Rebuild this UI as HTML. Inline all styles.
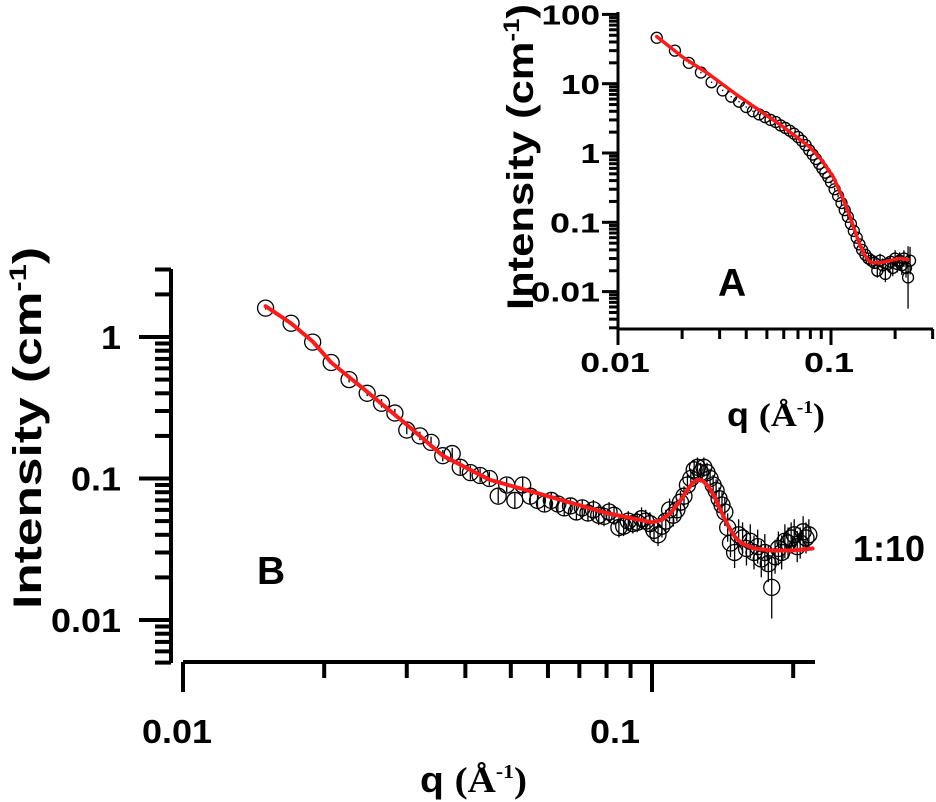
<!DOCTYPE html>
<html><head><meta charset="utf-8"><style>
html,body{margin:0;padding:0;background:#fff;}
svg{display:block;font-family:"Liberation Sans",Arial,sans-serif;font-weight:bold;}
</style></head><body>
<svg id="chart" width="936" height="802" viewBox="0 0 936 802" xmlns="http://www.w3.org/2000/svg">
<g id="main"></g>
<g id="inset"></g>
<text transform="translate(41,609) rotate(-90)" font-size="40" textLength="362" lengthAdjust="spacingAndGlyphs">Intensity (cm<tspan font-size="24" dy="-15">-1</tspan><tspan dy="15">)</tspan></text>
<text x="420" y="792" font-size="36" textLength="107" lengthAdjust="spacingAndGlyphs">q <tspan font-family="'Liberation Serif',serif">(Å</tspan><tspan font-family="'Liberation Serif',serif" font-size="20" dy="-14">-1</tspan><tspan font-family="'Liberation Serif',serif" dy="14">)</tspan></text>
<text transform="translate(533,310) rotate(-90)" font-size="37" textLength="306" lengthAdjust="spacingAndGlyphs">Intensity (cm<tspan font-size="22" dy="-14">-1</tspan><tspan dy="14">)</tspan></text>
<text x="727" y="426" font-size="33" textLength="98" lengthAdjust="spacingAndGlyphs">q <tspan font-family="'Liberation Serif',serif">(Å</tspan><tspan font-family="'Liberation Serif',serif" font-size="18" dy="-13">-1</tspan><tspan font-family="'Liberation Serif',serif" dy="13">)</tspan></text>
<text x="718" y="296" font-size="39">A</text>
<text x="257" y="584" font-size="39">B</text>
<text x="853" y="561" font-size="36">1:10</text>
</svg>
<script>
// ---- Panel B data ----
const bQ = [0.015,0.017,0.0189,0.0207,0.0226,0.0247,0.0265,0.0283,0.030,0.032,0.0338,0.0358,0.0375,0.039,0.041,0.043,0.045,0.047,0.049,0.051,0.053,0.055,0.057,0.059,0.061,0.063,0.065,0.067,0.069,0.071,0.073,0.075,0.077,0.079,0.081,0.083,0.085,0.087,0.089,0.091,0.093,0.095,0.097,0.099,0.101,0.103,0.105,0.107,0.109,0.111,0.113,0.115,0.117,0.119,0.121,0.123,0.125,0.127,0.129,0.131,0.133,0.135,0.137,0.139,0.141,0.143,0.145,0.147,0.150,0.153,0.156,0.159,0.162,0.165,0.168,0.171,0.174,0.177,0.180,0.183,0.186,0.189,0.192,0.195,0.198,0.201,0.204,0.207,0.210,0.213,0.216];
const bI = [1.6,1.25,0.92,0.66,0.5,0.4,0.34,0.29,0.22,0.2,0.18,0.145,0.15,0.12,0.11,0.105,0.1,0.075,0.09,0.07,0.09,0.075,0.07,0.066,0.07,0.066,0.062,0.064,0.058,0.062,0.057,0.06,0.055,0.054,0.058,0.055,0.045,0.046,0.05,0.048,0.049,0.052,0.05,0.048,0.043,0.04,0.046,0.05,0.06,0.055,0.06,0.068,0.075,0.09,0.1,0.115,0.12,0.11,0.12,0.11,0.1,0.09,0.082,0.072,0.065,0.058,0.045,0.035,0.03,0.04,0.038,0.032,0.036,0.03,0.033,0.027,0.03,0.025,0.017,0.028,0.032,0.03,0.036,0.035,0.038,0.04,0.033,0.035,0.042,0.038,0.04];
const bErr = [0.01,0.01,0.01,0.01,0.02,0.02,0.03,0.03,0.03,0.03,0.04,0.04,0.04,0.05,0.05,0.05,0.05,0.05,0.05,0.06,0.06,0.06,0.06,0.06,0.06,0.06,0.06,0.06,0.06,0.06,0.06,0.07,0.07,0.07,0.07,0.07,0.07,0.07,0.07,0.07,0.07,0.08,0.08,0.08,0.08,0.08,0.08,0.08,0.08,0.08,0.08,0.08,0.07,0.07,0.07,0.07,0.07,0.07,0.07,0.07,0.07,0.07,0.08,0.08,0.09,0.1,0.1,0.1,0.11,0.11,0.11,0.12,0.12,0.12,0.12,0.13,0.13,0.13,0.22,0.12,0.12,0.12,0.12,0.11,0.11,0.11,0.11,0.11,0.11,0.11,0.11];
const bFitQ = [0.015,0.017,0.0189,0.0207,0.0247,0.030,0.0358,0.040,0.045,0.06,0.08,0.1,0.105,0.11,0.115,0.119,0.122,0.125,0.128,0.132,0.136,0.14,0.145,0.15,0.155,0.165,0.18,0.2,0.22];
const bFitI = [1.65,1.25,0.93,0.66,0.41,0.24,0.145,0.12,0.098,0.075,0.057,0.049,0.051,0.058,0.07,0.083,0.093,0.098,0.097,0.088,0.074,0.06,0.047,0.039,0.035,0.032,0.031,0.031,0.032];
const bYTicks = [1,0.1,0.01];
const bYLabels = ["1","0.1","0.01"];
const bXTicks = [0.01,0.1];
const bXLabels = ["0.01","0.1"];
// ---- Panel A data ----
const aQ = [0.0152,0.0185,0.0215,0.0245,0.0275,0.031,0.034,0.037,0.040,0.043,0.046,0.049,0.052,0.055,0.058,0.061,0.064,0.067,0.070,0.073,0.076,0.079,0.082,0.085,0.088,0.091,0.094,0.097,0.100,0.104,0.108,0.112,0.116,0.120,0.124,0.128,0.132,0.136,0.140,0.145,0.150,0.155,0.160,0.165,0.170,0.175,0.180,0.185,0.190,0.195,0.200,0.205,0.210,0.215,0.220,0.225,0.230,0.235];
const aI = [46,30,20,14.5,10.5,8,6.5,5.5,4.6,4.0,3.6,3.3,3.0,2.8,2.5,2.3,2.1,1.9,1.7,1.5,1.3,1.1,0.95,0.82,0.7,0.6,0.52,0.45,0.38,0.3,0.24,0.19,0.15,0.12,0.095,0.075,0.06,0.048,0.04,0.034,0.03,0.028,0.026,0.02,0.028,0.024,0.018,0.025,0.027,0.022,0.03,0.025,0.028,0.024,0.03,0.022,0.016,0.028];
const aErr = [0.01,0.01,0.01,0.01,0.01,0.01,0.01,0.01,0.01,0.01,0.01,0.01,0.01,0.01,0.01,0.01,0.01,0.01,0.01,0.01,0.01,0.01,0.01,0.01,0.01,0.01,0.01,0.01,0.02,0.02,0.02,0.03,0.03,0.03,0.04,0.04,0.05,0.05,0.06,0.07,0.08,0.08,0.09,0.1,0.1,0.1,0.12,0.1,0.1,0.12,0.12,0.12,0.12,0.14,0.12,0.14,0.45,0.2];
const aFitQ = [0.0152,0.0202,0.0262,0.0374,0.0595,0.0794,0.09,0.1025,0.11,0.117,0.123,0.13,0.137,0.144,0.150,0.157,0.17,0.19,0.21,0.23];
const aFitI = [48,24,14.3,6.4,2.4,1.22,0.8,0.45,0.28,0.18,0.12,0.072,0.046,0.034,0.028,0.026,0.026,0.028,0.03,0.029];
const aYTicks = [100,10,1,0.1,0.01];
const aYLabels = ["100","10","1","0.1","0.01"];
const aXTicks = [0.01,0.1];
const aXLabels = ["0.01","0.1"];

const NS="http://www.w3.org/2000/svg";
function mk(parent,tag,attrs){const e=document.createElementNS(NS,tag);for(const k in attrs)e.setAttribute(k,attrs[k]);parent.appendChild(e);return e;}

function drawPanel(g,cfg){
  const X=q=>cfg.x0+cfg.xDec*Math.log10(q/cfg.qMin);
  const Y=v=>cfg.y1-cfg.yDec*Math.log10(v);
  let ya=mk(g,'line',{x1:cfg.ax,y1:cfg.yTop,x2:cfg.ax,y2:cfg.yBot,stroke:'#000','stroke-width':cfg.sw});
  
  
  for(let d=cfg.dMin;d<=cfg.dMax;d++){
    for(let m=1;m<=9;m++){
      const v=m*Math.pow(10,d);const y=Y(v);
      if(y<cfg.yTop-1||y>cfg.yBot+1)continue;
      const len=m===1?cfg.majLen:cfg.minLen;
      const t=mk(g,'line',{x1:cfg.ax-len,y1:y,x2:cfg.ax,y2:y,stroke:'#000','stroke-width':cfg.tw});
      
      
    }
  }
  cfg.yTicks.forEach((v,i)=>{
    const lab=cfg.yLabels[i];
    const t=mk(g,'text',{x:cfg.yLabX,y:Y(v)+cfg.fs*0.36,'text-anchor':'end','font-size':cfg.fs});
    t.textContent=lab;
    t.setAttribute('textLength',(cfg.charW*lab.replace('.','').length+cfg.dotW*(lab.includes('.')?1:0)).toFixed(1));
    t.setAttribute('lengthAdjust','spacingAndGlyphs');
    
    
  });
  let xa=mk(g,'line',{x1:cfg.x0,y1:cfg.xy,x2:cfg.xEnd,y2:cfg.xy,stroke:'#000','stroke-width':cfg.sw});
  
  
  for(let d=-2;d<=-1;d++){
    for(let m=1;m<=9;m++){
      const q=m*Math.pow(10,d);const x=X(q);
      if(x<cfg.x0-1||x>cfg.xEnd+1)continue;
      const len=m===1?cfg.xMaj:cfg.xMin;
      const t=mk(g,'line',{x1:x,y1:cfg.xy,x2:x,y2:cfg.xy+len,stroke:'#000','stroke-width':cfg.tw});
      
      
    }
  }
  cfg.xTicks.forEach((q,i)=>{
    const lab=cfg.xLabels[i];
    const t=mk(g,'text',{x:X(q)+cfg.xLabShift[i],y:cfg.xLabY,'text-anchor':'middle','font-size':cfg.fs});
    t.textContent=lab;
    t.setAttribute('textLength',(cfg.charW*lab.replace('.','').length+cfg.dotW).toFixed(1));
    t.setAttribute('lengthAdjust','spacingAndGlyphs');
    
    
  });
  cfg.q.forEach((q,i)=>{
    const x=X(q),y=Y(cfg.I[i]);
    const e=cfg.err[i];
    const eb=mk(g,'line',{x1:x,y1:Y(cfg.I[i]*Math.pow(10,e)),x2:x,y2:Y(cfg.I[i]/Math.pow(10,e)),stroke:'#000','stroke-width':1.3});
    
    
    const c=mk(g,'circle',{cx:x,cy:y,r:cfg.r,fill:'none',stroke:'#000','stroke-width':1.3});
    
    
  });
  const pts=cfg.fq.map((q,i)=>X(q).toFixed(1)+','+Y(cfg.fI[i]).toFixed(1)).join(' ');
  const p=mk(g,'polyline',{points:pts,fill:'none',stroke:'#ff1a1a','stroke-width':cfg.fw,'stroke-linejoin':'round','stroke-linecap':'round'});
  
  
}

drawPanel(document.getElementById('main'),{x0:183,xDec:469,qMin:0.01,xEnd:815,xy:662,xMaj:30,xMin:16,xLabY:743,xLabShift:[-6,-37],
  ax:171,yTop:269,yBot:663,y1:337,yDec:141.5,dMin:-3,dMax:0,majLen:32,minLen:16,sw:4,tw:4,fs:33,yLabX:121,charW:20,dotW:10,
  yTicks:bYTicks,yLabels:bYLabels,xTicks:bXTicks,xLabels:bXLabels,q:bQ,I:bI,err:bErr,fq:bFitQ,fI:bFitI,r:8,fw:4});
drawPanel(document.getElementById('inset'),{x0:618,xDec:213,qMin:0.01,xEnd:933,xy:329,xMaj:16,xMin:10,xLabY:372,xLabShift:[-3,-2],
  ax:618,yTop:12,yBot:329,y1:153,yDec:69.3,dMin:-3,dMax:2,majLen:16,minLen:9,sw:3,tw:3,fs:28,yLabX:600,charW:19.5,dotW:11,
  yTicks:aYTicks,yLabels:aYLabels,xTicks:aXTicks,xLabels:aXLabels,q:aQ,I:aI,err:aErr,fq:aFitQ,fI:aFitI,r:5.5,fw:3.5});
</script>
</body></html>
